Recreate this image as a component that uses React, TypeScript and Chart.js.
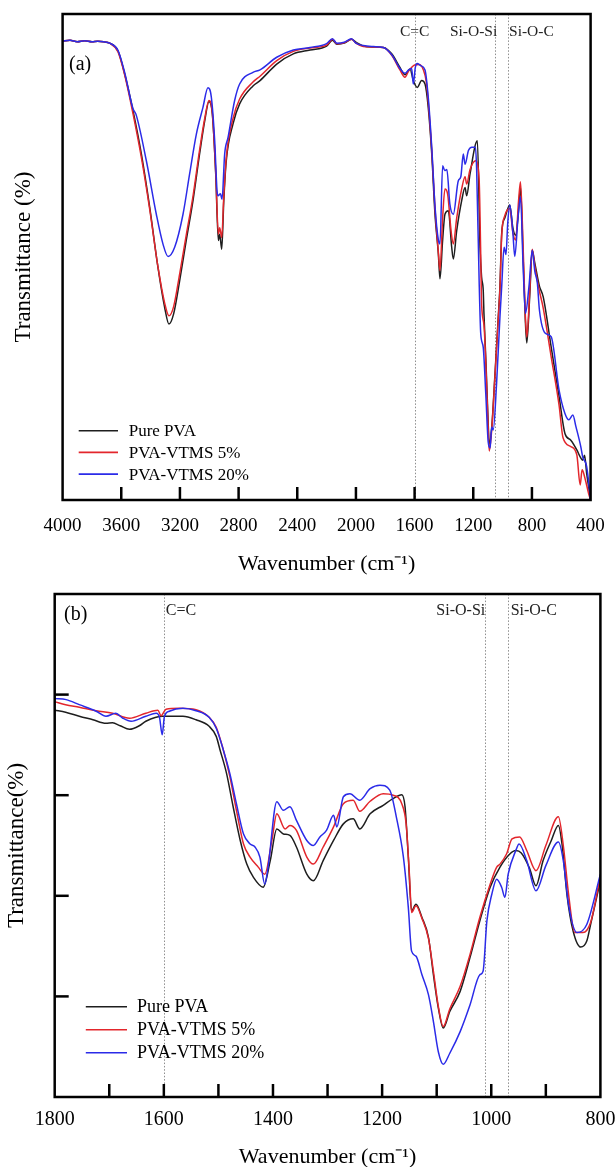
import React, { useEffect, useRef } from 'react';
import { Chart, registerables } from 'chart.js';

Chart.register(...registerables);

const FONT = '"Liberation Serif", "Times New Roman", Times, serif';

// ---------- shared ----------
const seriesLabels = ['Pure PVA', 'PVA-VTMS 5%', 'PVA-VTMS 20%'];
const seriesColors = ['#1e1e1e', '#e3262c', '#2b2be8'];

// ---------- panel (a): 4000-400 cm-1 ----------
const aPureWn = [4000, 3950, 3900, 3850, 3800, 3760, 3720, 3679, 3622, 3577, 3520, 3463, 3406, 3350, 3304, 3275, 3243, 3202, 3157, 3111, 3066, 3031, 3002, 2979, 2956, 2938, 2929, 2915, 2901, 2884, 2838, 2793, 2702, 2654, 2540, 2427, 2313, 2200, 2160, 2130, 2080, 2030, 2000, 1950, 1880, 1813, 1756, 1700, 1666, 1631, 1609, 1582, 1552, 1529, 1507, 1483, 1461, 1438, 1427, 1409, 1393, 1370, 1347, 1336, 1313, 1279, 1256, 1245, 1222, 1172, 1154, 1143, 1132, 1127, 1113, 1098, 1091, 1074, 1052, 1029, 1018, 1006, 985, 951, 930, 911, 890, 878, 860, 845, 835, 815, 798, 780, 749, 723, 669, 615, 575, 535, 494, 470, 454, 441, 427, 415, 400];
const aPureT = [94.4, 94.6, 94.3, 94.5, 94.3, 94.4, 94.3, 94.0, 92.4, 87.7, 80.1, 71.2, 60.2, 47.9, 39.6, 36.2, 38.3, 45.1, 53.4, 61.6, 71.2, 78.0, 82.0, 79.4, 67.1, 53.4, 54.7, 51.6, 61.6, 69.8, 77.4, 81.5, 85.2, 86.3, 89.7, 91.8, 92.6, 93.4, 94.6, 93.8, 94.0, 94.8, 94.2, 93.4, 93.2, 93.1, 91.8, 89.0, 87.5, 88.7, 86.3, 84.9, 86.3, 85.6, 80.8, 71.2, 58.8, 50.6, 45.5, 53.4, 58.8, 59.5, 52.0, 49.6, 55.4, 61.6, 64.3, 62.6, 67.1, 73.9, 52.0, 45.8, 43.1, 38.3, 28.0, 15.6, 11.5, 15.0, 25.9, 38.0, 44.0, 55.0, 58.0, 60.7, 56.0, 54.5, 60.0, 64.5, 50.0, 37.0, 32.3, 42.0, 51.4, 48.7, 44.0, 41.8, 31.5, 21.3, 13.7, 12.3, 10.3, 8.8, 8.2, 9.2, 5.5, 3.0, 0];

const aVtms5Wn = [4000, 3950, 3900, 3850, 3800, 3760, 3720, 3679, 3622, 3577, 3520, 3463, 3406, 3350, 3304, 3275, 3243, 3202, 3157, 3111, 3066, 3031, 3002, 2979, 2956, 2938, 2929, 2915, 2901, 2884, 2838, 2793, 2702, 2654, 2540, 2427, 2313, 2200, 2160, 2130, 2080, 2030, 2000, 1950, 1880, 1813, 1756, 1700, 1666, 1640, 1600, 1570, 1540, 1520, 1507, 1483, 1461, 1438, 1427, 1409, 1393, 1375, 1350, 1336, 1313, 1279, 1256, 1245, 1222, 1183, 1160, 1150, 1143, 1127, 1113, 1098, 1091, 1074, 1052, 1029, 1018, 1006, 985, 951, 930, 911, 890, 878, 860, 845, 835, 815, 798, 780, 749, 723, 669, 615, 588, 535, 494, 471, 458, 441, 414, 400];
const aVtms5T = [94.4, 94.6, 94.3, 94.5, 94.3, 94.4, 94.3, 94.0, 92.2, 87.5, 79.5, 70.5, 59.8, 48.0, 40.5, 37.9, 39.8, 46.5, 54.5, 62.5, 72.0, 78.5, 82.2, 79.6, 67.5, 54.7, 56.0, 54.0, 62.5, 70.5, 78.5, 82.5, 86.0, 87.2, 90.4, 92.3, 93.0, 93.6, 94.8, 93.9, 94.1, 94.8, 94.0, 93.3, 93.2, 93.1, 91.5, 88.5, 87.0, 88.3, 89.5, 89.6, 88.5, 86.0, 82.0, 72.0, 60.0, 51.0, 47.2, 58.0, 64.0, 63.0, 55.0, 52.7, 58.0, 64.0, 66.5, 65.0, 68.0, 69.8, 66.0, 52.0, 40.3, 36.0, 27.0, 14.5, 10.1, 14.5, 25.5, 37.5, 43.5, 54.5, 58.5, 60.0, 55.0, 53.5, 62.0, 65.5, 52.0, 38.0, 33.5, 43.0, 51.6, 48.0, 43.0, 39.5, 29.5, 19.5, 12.8, 11.0, 9.3, 3.1, 6.2, 4.8, 1.4, 0];

const aVtms20Wn = [4000, 3950, 3900, 3850, 3800, 3760, 3720, 3679, 3622, 3577, 3520, 3500, 3429, 3361, 3316, 3281, 3236, 3179, 3134, 3088, 3043, 3009, 2986, 2963, 2947, 2940, 2924, 2913, 2895, 2872, 2827, 2793, 2702, 2654, 2540, 2427, 2313, 2200, 2160, 2130, 2080, 2030, 2000, 1950, 1880, 1813, 1756, 1700, 1666, 1640, 1620, 1609, 1595, 1582, 1560, 1529, 1507, 1483, 1461, 1438, 1427, 1409, 1395, 1380, 1360, 1336, 1302, 1285, 1268, 1256, 1233, 1210, 1185, 1177, 1160, 1149, 1132, 1115, 1098, 1085, 1074, 1064, 1041, 1018, 1006, 990, 977, 965, 951, 930, 917, 895, 878, 860, 844, 820, 798, 780, 763, 749, 709, 669, 615, 575, 548, 521, 500, 467, 454, 427, 400];
const aVtms20T = [94.4, 94.6, 94.3, 94.5, 94.3, 94.4, 94.3, 94.0, 92.5, 88.0, 80.5, 79.4, 69.8, 58.8, 52.7, 50.1, 52.0, 58.8, 67.1, 75.3, 80.8, 84.8, 82.9, 73.9, 63.6, 62.6, 63.0, 61.9, 71.2, 74.6, 82.2, 85.6, 88.0, 88.5, 91.1, 92.6, 93.1, 93.9, 94.9, 94.0, 94.2, 94.9, 94.0, 93.5, 93.3, 93.1, 91.6, 88.8, 87.8, 88.5, 88.8, 85.6, 89.0, 89.8, 89.4, 88.5, 82.9, 72.5, 60.5, 53.5, 52.7, 68.8, 67.8, 68.0, 61.0, 58.8, 65.7, 66.5, 71.2, 69.1, 71.9, 72.6, 72.6, 68.0, 45.1, 34.2, 31.4, 22.0, 11.9, 10.7, 15.0, 14.4, 24.0, 37.7, 44.0, 52.0, 50.5, 57.0, 60.7, 55.0, 50.1, 58.0, 62.4, 48.0, 38.4, 44.0, 51.4, 47.0, 44.6, 39.1, 34.3, 33.6, 22.6, 17.8, 16.5, 17.5, 15.1, 11.0, 8.9, 6.9, 0];

const aMarkerWn = [1600, 1050, 963];
const aMarkerText = ['C=C', 'Si-O-Si', 'Si-O-C'];

// ---------- panel (b): 1800-800 cm-1 ----------
const bPureWn = [1800, 1780, 1755, 1730, 1706, 1694, 1680, 1663, 1645, 1633, 1602, 1565, 1541, 1517, 1504, 1497, 1485, 1473, 1460, 1448, 1436, 1418, 1405, 1393, 1381, 1369, 1357, 1338, 1326, 1308, 1289, 1271, 1253, 1241, 1222, 1198, 1180, 1164, 1158, 1152, 1146, 1138, 1127, 1115, 1106, 1097, 1088, 1076, 1057, 1039, 1021, 1002, 984, 966, 955, 945, 930, 918, 905, 890, 877, 870, 861, 850, 836, 825, 818, 800];
const bPureT = [76.9, 76.5, 75.7, 75.0, 74.3, 74.4, 73.8, 73.1, 73.8, 74.7, 75.7, 75.7, 75.0, 73.7, 71.7, 69.0, 64.3, 57.7, 51.0, 46.3, 43.7, 41.7, 47.0, 53.3, 52.3, 52.0, 49.7, 44.3, 43.0, 47.0, 51.0, 54.3, 55.3, 53.3, 56.3, 58.0, 59.3, 60.1, 57.7, 47.7, 37.0, 38.3, 35.7, 31.7, 24.3, 17.7, 13.7, 17.0, 21.0, 27.7, 35.0, 41.7, 45.7, 48.3, 49.0, 48.5, 45.5, 42.0, 47.0, 51.0, 54.0, 50.0, 40.0, 33.0, 29.8, 31.0, 34.3, 43.0];

const bVtms5Wn = [1800, 1780, 1755, 1724, 1694, 1663, 1633, 1611, 1605, 1596, 1572, 1541, 1517, 1504, 1491, 1479, 1467, 1454, 1442, 1427, 1415, 1402, 1393, 1378, 1369, 1357, 1338, 1326, 1308, 1289, 1271, 1253, 1241, 1222, 1198, 1180, 1164, 1156, 1150, 1146, 1138, 1127, 1115, 1106, 1097, 1088, 1076, 1057, 1039, 1021, 1002, 990, 984, 972, 962, 948, 935, 918, 900, 877, 868, 858, 847, 832, 818, 800];
const bVtms5T = [78.6, 78.0, 77.5, 76.8, 76.3, 75.3, 76.3, 76.9, 75.8, 77.1, 77.3, 77.0, 75.5, 73.5, 69.0, 63.7, 57.0, 50.3, 47.7, 45.7, 44.3, 51.0, 56.3, 53.3, 54.0, 53.0, 47.7, 46.3, 49.7, 53.7, 58.3, 59.0, 56.8, 58.8, 60.3, 60.0, 58.3, 54.3, 44.3, 36.7, 38.0, 35.5, 31.5, 25.0, 18.0, 14.0, 17.5, 22.0, 28.3, 35.7, 42.3, 45.7, 46.3, 48.3, 51.3, 51.7, 49.0, 45.0, 50.0, 55.7, 50.0, 40.0, 32.7, 32.7, 34.7, 44.0];

const bVtms20Wn = [1800, 1779, 1755, 1724, 1706, 1688, 1675, 1660, 1633, 1614, 1608, 1603, 1599, 1590, 1565, 1541, 1517, 1504, 1491, 1479, 1467, 1454, 1442, 1433, 1424, 1415, 1409, 1393, 1381, 1369, 1357, 1338, 1326, 1314, 1302, 1289, 1283, 1271, 1259, 1241, 1222, 1204, 1186, 1174, 1161, 1152, 1146, 1138, 1127, 1115, 1106, 1097, 1088, 1076, 1057, 1039, 1021, 1015, 1008, 999, 990, 981, 975, 969, 955, 949, 935, 918, 900, 877, 868, 858, 843, 825, 800];
const bVtms20T = [79.2, 79.0, 78.0, 76.7, 75.7, 76.3, 75.3, 74.7, 75.7, 76.3, 75.5, 72.0, 75.6, 76.7, 77.3, 76.8, 75.5, 73.3, 69.0, 64.3, 58.3, 52.3, 50.3, 49.7, 47.7, 42.3, 45.7, 58.7, 57.0, 57.7, 55.0, 51.0, 50.0, 51.7, 53.0, 56.0, 53.7, 59.7, 60.3, 59.0, 61.3, 62.0, 61.0, 55.7, 47.7, 37.7, 29.0, 28.0, 24.3, 20.3, 15.0, 9.0, 6.5, 8.7, 13.0, 18.3, 24.3, 25.0, 35.0, 40.3, 43.3, 41.7, 39.7, 44.3, 49.0, 50.3, 47.0, 41.0, 46.0, 50.7, 47.0, 38.0, 32.7, 34.3, 44.3];

const bMarkerWn = [1600, 1011, 970];
const bMarkerText = ['C=C', 'Si-O-Si', 'Si-O-C'];

const toPoints = (wn: number[], t: number[]) => wn.map((w, i) => ({ x: w, y: t[i] }));

type PanelCfg = {
  height: number;
  xMin: number;
  xMax: number;
  xStep: number;
  labelEvery: number;
  series: { wn: number[]; t: number[] }[];
  markers: number[];
  markerText: string[];
  markerAlign: CanvasTextAlign[];
  markerDx: number[];
  markerY: number;
  markerFont: number;
  panelLabel: string;
  panelLabelX: number;
  panelLabelY: number;
  yTitle: string;
  yTitlePad: number;
  yTicks: boolean;
  area: { left: number; right: number; top: number; bottom: number };
  tickFont: number;
  tickPad: number;
  titlePadBottom: number;
  legend: { x0: number; x1: number; tx: number; y: number; dy: number; font: number };
};

const panelA: PanelCfg = {
  height: 580,
  xMin: 400,
  xMax: 4000,
  xStep: 400,
  labelEvery: 400,
  series: [
    { wn: aPureWn, t: aPureT },
    { wn: aVtms5Wn, t: aVtms5T },
    { wn: aVtms20Wn, t: aVtms20T },
  ],
  markers: aMarkerWn,
  markerText: aMarkerText,
  markerAlign: ['center', 'right', 'left'],
  markerDx: [0, 2, 1],
  markerY: 32,
  markerFont: 15.5,
  panelLabel: '(a)',
  panelLabelX: 69,
  panelLabelY: 65,
  yTitle: 'Transmittance (%)',
  yTitlePad: 10,
  yTicks: false,
  area: { left: 62.6, right: 590.6, top: 14, bottom: 500 },
  tickFont: 19,
  tickPad: 7,
  titlePadBottom: 3,
  legend: { x0: 78.7, x1: 118, tx: 128.7, y: 430.7, dy: 21.7, font: 17 },
};

const panelB: PanelCfg = {
  height: 587,
  xMin: 800,
  xMax: 1800,
  xStep: 100,
  labelEvery: 200,
  series: [
    { wn: bPureWn, t: bPureT },
    { wn: bVtms5Wn, t: bVtms5T },
    { wn: bVtms20Wn, t: bVtms20T },
  ],
  markers: bMarkerWn,
  markerText: bMarkerText,
  markerAlign: ['left', 'right', 'left'],
  markerDx: [2, 0, 3],
  markerY: 31,
  markerFont: 16,
  panelLabel: '(b)',
  panelLabelX: 64,
  panelLabelY: 35,
  yTitle: 'Transmittance(%)',
  yTitlePad: 3,
  yTicks: true,
  area: { left: 54.7, right: 600.4, top: 14, bottom: 517 },
  tickFont: 20,
  tickPad: 3,
  titlePadBottom: -3,
  legend: { x0: 85.8, x1: 127, tx: 137, y: 426.7, dy: 23, font: 18 },
};

const decorPlugin = {
  id: 'panelDecor',
  beforeDatasetsDraw(chart: any, _args: any, opts: any) {
    const cfg: PanelCfg = opts.cfg;
    const { ctx, chartArea: a } = chart;
    const x = chart.scales.x;
    ctx.save();
    ctx.strokeStyle = '#8e8e8e';
    ctx.lineWidth = 1;
    ctx.setLineDash([1.5, 1.8]);
    cfg.markers.forEach((m) => {
      const px = Math.round(x.getPixelForValue(m)) + 0.5;
      ctx.beginPath();
      ctx.moveTo(px, a.top);
      ctx.lineTo(px, a.bottom);
      ctx.stroke();
    });
    ctx.restore();
  },
  afterDatasetsDraw(chart: any, _args: any, opts: any) {
    const cfg: PanelCfg = opts.cfg;
    const { ctx, chartArea: a } = chart;
    const x = chart.scales.x;
    const y = chart.scales.y;
    ctx.save();
    // frame
    ctx.strokeStyle = '#000';
    ctx.lineWidth = 2.5;
    ctx.strokeRect(a.left, a.top, a.right - a.left, a.bottom - a.top);
    // inward x ticks
    x.ticks.forEach((t: any) => {
      if (t.value <= cfg.xMin || t.value >= cfg.xMax) return;
      const px = x.getPixelForValue(t.value);
      ctx.beginPath();
      ctx.moveTo(px, a.bottom);
      ctx.lineTo(px, a.bottom - 13);
      ctx.stroke();
    });
    // inward y ticks
    if (cfg.yTicks) {
      y.ticks.forEach((t: any) => {
        if (t.value <= y.min || t.value >= y.max) return;
        const py = y.getPixelForValue(t.value);
        ctx.beginPath();
        ctx.moveTo(a.left, py);
        ctx.lineTo(a.left + 14, py);
        ctx.stroke();
      });
    }
    // marker labels
    ctx.fillStyle = '#222';
    ctx.textBaseline = 'middle';
    ctx.font = `${cfg.markerFont}px ${FONT}`;
    cfg.markers.forEach((m, i) => {
      const px = x.getPixelForValue(m);
      ctx.textAlign = cfg.markerAlign[i];
      ctx.fillText(cfg.markerText[i], px + cfg.markerDx[i], cfg.markerY);
    });
    // panel label
    ctx.fillStyle = '#000';
    ctx.textAlign = 'left';
    ctx.font = `20px ${FONT}`;
    ctx.fillText(cfg.panelLabel, cfg.panelLabelX, cfg.panelLabelY);
    // legend
    const L = cfg.legend;
    ctx.font = `${L.font}px ${FONT}`;
    chart.data.datasets.forEach((ds: any, i: number) => {
      const yy = L.y + i * L.dy;
      ctx.strokeStyle = ds.borderColor;
      ctx.lineWidth = 1.6;
      ctx.beginPath();
      ctx.moveTo(L.x0, yy);
      ctx.lineTo(L.x1, yy);
      ctx.stroke();
      ctx.fillStyle = '#000';
      ctx.fillText(ds.label, L.tx, yy + 1);
    });
    ctx.restore();
  },
};

function Panel({ cfg }: { cfg: PanelCfg }) {
  const ref = useRef<HTMLCanvasElement | null>(null);
  useEffect(() => {
    if (!ref.current) return;
    const W = 615;
    const chart = new Chart(ref.current, {
      type: 'line',
      data: {
        datasets: cfg.series.map((s, i) => ({
          label: seriesLabels[i],
          data: toPoints(s.wn, s.t),
          borderColor: seriesColors[i],
          backgroundColor: seriesColors[i],
          borderWidth: 1.5,
          pointRadius: 0,
          fill: false,
          cubicInterpolationMode: 'monotone' as const,
          order: 2 - i,
        })),
      },
      options: {
        responsive: false,
        animation: false,
        events: [],
        layout: {
          padding: { top: cfg.area.top, right: W - cfg.area.right, left: 0, bottom: 0 },
        },
        plugins: {
          legend: { display: false },
          tooltip: { enabled: false },
          // @ts-ignore
          panelDecor: { cfg },
        },
        scales: {
          x: {
            type: 'linear',
            reverse: true,
            min: cfg.xMin,
            max: cfg.xMax,
            grid: { display: false },
            border: { display: false },
            ticks: {
              stepSize: cfg.xStep,
              autoSkip: false,
              maxRotation: 0,
              color: '#000',
              padding: cfg.tickPad,
              font: { family: FONT, size: cfg.tickFont },
              callback: (v: any) => (Number(v) % cfg.labelEvery === 0 ? String(v) : ''),
            },
            title: {
              display: true,
              text: 'Wavenumber (cm⁻¹)',
              color: '#000',
              font: { family: FONT, size: 22 },
              padding: { top: 0, bottom: cfg.titlePadBottom },
            },
            afterFit: (s: any) => {
              s.height = cfg.height - cfg.area.bottom;
              s.paddingLeft = 0;
              s.paddingRight = 0;
            },
          },
          y: {
            type: 'linear',
            min: 0,
            max: 100,
            grid: { display: false },
            border: { display: false },
            ticks: { display: false, stepSize: 20 },
            title: {
              display: true,
              text: cfg.yTitle,
              color: '#000',
              font: { family: FONT, size: 23 },
              padding: { top: cfg.yTitlePad, bottom: 0 },
            },
            afterFit: (s: any) => {
              s.width = cfg.area.left;
              s.paddingTop = 0;
              s.paddingBottom = 0;
            },
          },
        },
      },
      plugins: [decorPlugin],
    } as any);
    return () => chart.destroy();
  }, [cfg]);
  return <canvas ref={ref} width={615} height={cfg.height} style={{ display: 'block' }} />;
}

export default function App() {
  return (
    <div style={{ position: 'absolute', left: 0, top: 0, width: 615, height: 1167, background: '#fff' }}>
      <Panel cfg={panelA} />
      <Panel cfg={panelB} />
    </div>
  );
}
